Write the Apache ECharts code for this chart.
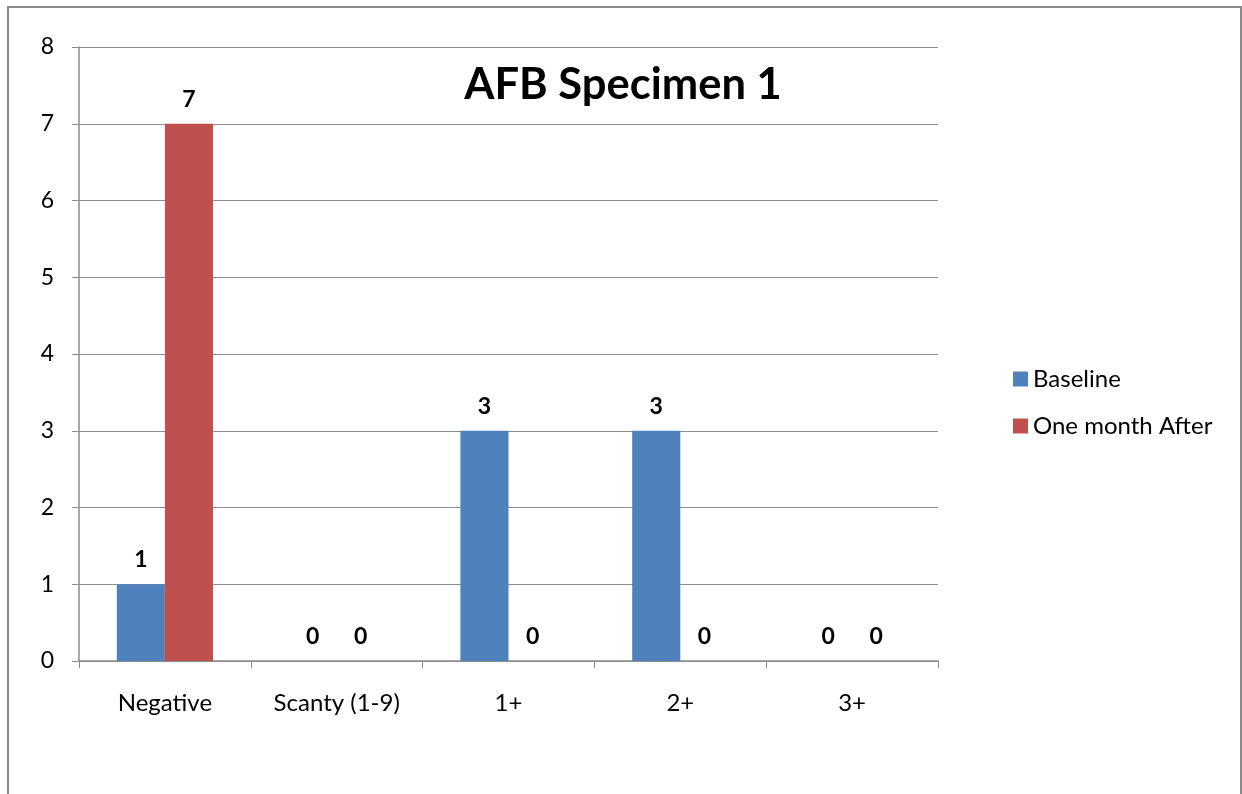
<!DOCTYPE html>
<html><head><meta charset="utf-8">
<script src="https://cdn.jsdelivr.net/npm/echarts@6/dist/echarts.min.js"></script>
<style>html,body{margin:0;padding:0;background:#fff}#c{width:1242px;height:794px}</style>
</head><body><div id="c"></div>
<script>
const categories = ["Negative", "Scanty (1-9)", "1+", "2+", "3+"];
const baseline = [1, 0, 3, 3, 0];
const oneMonthAfter = [7, 0, 0, 0, 0];
const seriesNames = ["Baseline", "One month After"];
const titleText = "AFB Specimen 1";

const FONT = "Lato, 'Open Sans', sans-serif";
const chart = echarts.init(document.getElementById('c'));
const lbl = {show: true, position: 'top', distance: 13, fontFamily: FONT, fontWeight: 'bold', fontSize: 23, color: '#000'};
chart.setOption({
  animation: false,
  graphic: [{type: 'rect', shape: {x: 8, y: 7, width: 1233, height: 800}, style: {fill: 'none', stroke: '#8a8a8a', lineWidth: 2}, z: -1}],
  title: {text: titleText, left: 618, top: 58, textAlign: 'center', textStyle: {fontFamily: FONT, fontWeight: 'bold', fontSize: 43.5, color: '#000'}},
  legend: {orient: 'vertical', left: 1008, top: 362, itemWidth: 15, itemHeight: 15, itemGap: 23, icon: 'rect',
    textStyle: {fontFamily: FONT, fontSize: 24, color: '#000'}},
  grid: {left: 79, right: 304, top: 47, bottom: 133},
  xAxis: {type: 'category', data: categories,
    axisLine: {lineStyle: {color: '#8c8c8c', width: 1.5}},
    axisTick: {show: true, length: 7, lineStyle: {color: '#8c8c8c'}},
    axisLabel: {fontFamily: FONT, fontSize: 24, color: '#000', margin: 30}},
  yAxis: {type: 'value', min: 0, max: 8, interval: 1,
    axisLine: {show: true, lineStyle: {color: '#8c8c8c', width: 1.5}},
    axisTick: {show: true, length: 7, lineStyle: {color: '#8c8c8c'}},
    splitLine: {lineStyle: {color: '#8c8c8c', width: 1.2}},
    axisLabel: {fontFamily: FONT, fontSize: 23, color: '#000', margin: 25}},
  series: [
    {name: seriesNames[0], type: 'bar', data: baseline, barGap: '0%', barCategoryGap: '44%', itemStyle: {color: '#4f81bd'}, label: lbl},
    {name: seriesNames[1], type: 'bar', data: oneMonthAfter, itemStyle: {color: '#c0504d'}, label: lbl}
  ]
});
</script></body></html>
